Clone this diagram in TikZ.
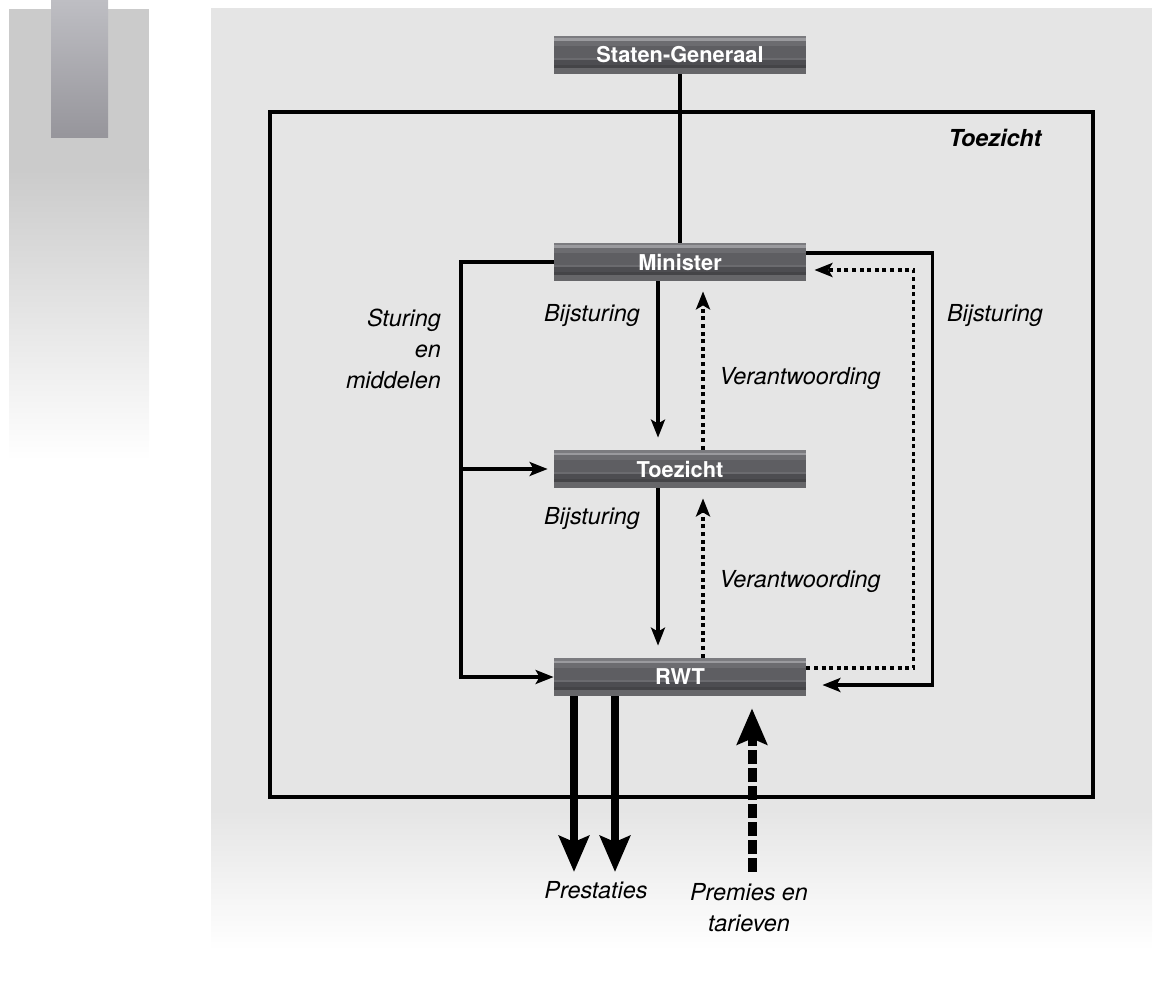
\documentclass[tikz,border=0pt]{standalone}
\usepackage{fontspec}
\setmainfont{TeX Gyre Heros}
\usepackage{xcolor}
\usepackage{tikz}
\usetikzlibrary{arrows.meta,positioning,calc}

\definecolor{bggray}{HTML}{E5E5E5}
\definecolor{panelgray}{HTML}{CBCBCB}
\definecolor{tabtop}{HTML}{BEBEC3}
\definecolor{tabbot}{HTML}{96959B}
\definecolor{barbase}{HTML}{5E5E62}
\definecolor{barA}{HTML}{7B7B7F}
\definecolor{barB}{HTML}{9A9A9E}
\definecolor{barC}{HTML}{6C6C70}
\definecolor{barD}{HTML}{6B6B6F}
\definecolor{barE}{HTML}{4D4D51}
\definecolor{barF}{HTML}{444447}
\definecolor{barG}{HTML}{666669}

\begin{document}
\begin{tikzpicture}[
  x=0.5pt, y=-0.5pt,
  font=\fontsize{11.7}{15.5}\selectfont,
  bar/.style={minimum width=126pt, minimum height=19pt, inner sep=0pt, fill=barbase,
    text=white, font=\fontsize{10.9}{13}\selectfont\bfseries,
    path picture={
      \foreach \a/\b/\c in {0/2.5/barA,2.5/5/barB,5/10/barC,22/24/barD,24/29/barE,29/32/barF,32/38/barG} {
        \fill[\c] ([yshift=-\a*0.5pt]path picture bounding box.north west)
          rectangle ([yshift=-\b*0.5pt]path picture bounding box.north east);
      }}},
  lab/.style={font=\fontsize{11.7}{15.5}\selectfont\itshape},
  line/.style={line width=1.6pt},
  arrow/.style={line width=1.6pt, -{Stealth[length=9pt,width=7pt,inset=2pt]}},
  dots/.style={arrow, line width=1.8pt, dash pattern=on 2pt off 1.8pt},
  big/.style={line width=4pt, -{Stealth[length=18pt,width=15pt,inset=3pt]}}
]
\useasboundingbox (0,0) rectangle (1154,983);

\fill[panelgray] (9,9) rectangle (149,171);
\shade[top color=panelgray, bottom color=white] (9,170) rectangle (149,460);
\shade[top color=tabtop, bottom color=tabbot] (51,0) rectangle (108,138);

\fill[bggray] (211,8) rectangle (1152,811);
\shade[top color=bggray, bottom color=white] (211,810) rectangle (1152,950);

\draw[line] (270,112) rectangle (1093,797);
\node[font=\fontsize{11.7}{13}\selectfont\bfseries\itshape] (toezlab) at (995,138) {Toezicht};

\node[bar] (staten) at (680,55) {Staten-Generaal};
\node[bar] (minister) at (680,262) {Minister};
\node[bar] (toezicht) at (680,469) {Toezicht};
\node[bar] (rwt) at (680,677) {RWT};

\draw[line] (staten) -- (minister);

\coordinate (sturing) at (461,262);
\draw[arrow] (minister.west) -- (sturing) -- (sturing |- rwt.west) -- (rwt.west);
\draw[arrow, shorten >=3pt] (sturing |- toezicht.west) -- (toezicht.west);

\draw[arrow, shorten >=6pt] ([xshift=-11pt]minister.south) -- ([xshift=-11pt]toezicht.north);
\draw[dots, shorten >=5pt] ([xshift=11.5pt]toezicht.north) -- ([xshift=11.5pt]minister.south);
\draw[arrow, shorten >=6pt] ([xshift=-11pt]toezicht.south) -- ([xshift=-11pt]rwt.north);
\draw[dots, shorten >=5pt] ([xshift=11.5pt]rwt.north) -- ([xshift=11.5pt]toezicht.south);

\draw[dots, shorten >=4pt] ([yshift=4.5pt]rwt.east) -- ++(107,0) |- ([yshift=-4pt]minister.east);
\draw[arrow, shorten >=8pt] ([yshift=4.5pt]minister.east) -- ++(126,0) |- ([yshift=-4pt]rwt.east);

\node[lab, align=right, anchor=north east] (sturlab) at (448,302) {Sturing\\en\\middelen};
\node[lab] (bij1) at (592,316) {Bijsturing};
\node[lab] (bij2) at (592,519) {Bijsturing};
\node[lab] (bij3) at (995,316) {Bijsturing};
\node[lab] (ver1) at (800,379) {Verantwoording};
\node[lab] (ver2) at (800,582) {Verantwoording};

\coordinate (prest1) at (574,872);
\coordinate (prest2) at (615,872);
\coordinate (premie) at (752,872);
\draw[big] ([xshift=-53pt]rwt.south) -- (prest1);
\draw[big] ([xshift=-32.5pt]rwt.south) -- (prest2);
\draw[big, line width=4.5pt, dash pattern=on 7pt off 2pt, shorten >=6pt] (premie) -- ([xshift=36pt]rwt.south);

\node[lab] (prestlab) at (596,890) {Prestaties};
\node[lab, align=center, anchor=north] (premlab) at (749,876) {Premies en\\tarieven};
\end{tikzpicture}
\end{document}
